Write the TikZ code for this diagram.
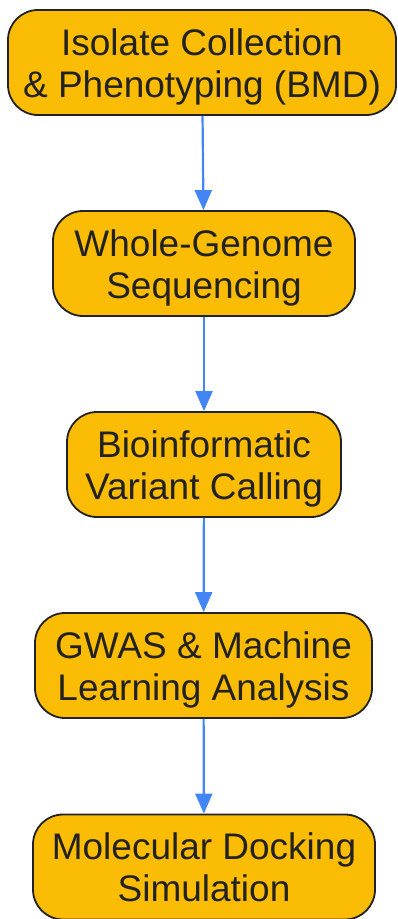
\documentclass[tikz,border=0pt]{standalone}
\usepackage{fontspec}
\setmainfont{Liberation Sans}
\usepackage{xcolor}
\usepackage{tikz}
\usetikzlibrary{arrows.meta, positioning}

\definecolor{boxfill}{HTML}{FBBC05}
\definecolor{boxline}{HTML}{222222}
\definecolor{flowblue}{HTML}{4285F4}

\tikzset{
  stepbox/.style={rectangle,rounded corners=30pt,draw=boxline,line width=1.8pt,fill=boxfill,
    text=boxline,align=center,minimum height=105pt,inner sep=0pt,
    font=\fontsize{37}{42}\selectfont,text height=79pt,text depth=10pt},
  flowarrow/.style={-{Triangle[length=20pt,width=17pt]},draw=flowblue,line width=2.2pt}
}

\begin{document}
\begin{tikzpicture}[x=1pt,y=-1pt]
    \useasboundingbox (0,0) rectangle (397,919);

    % Fasi della pipeline
    \node[stepbox,minimum width=388pt] (collect) at (202,62.5) {Isolate Collection\\\& Phenotyping (BMD)};
    \node[stepbox,minimum width=302pt] (wgs) at (204,263.5) {Whole-Genome\\Sequencing};
    \node[stepbox,minimum width=274pt] (calling) at (204,464.5) {Bioinformatic\\Variant Calling};
    \node[stepbox,minimum width=337pt] (gwas) at (203.5,665.5) {GWAS \& Machine\\Learning Analysis};
    \node[stepbox,minimum width=342pt] (docking) at (204,867) {Molecular Docking\\Simulation};

    % Collegamenti
    \draw[flowarrow] (collect) -- (wgs);
    \draw[flowarrow] (wgs) -- (calling);
    \draw[flowarrow] (calling) -- (gwas);
    \draw[flowarrow] (gwas) -- (docking);
\end{tikzpicture}
\end{document}
